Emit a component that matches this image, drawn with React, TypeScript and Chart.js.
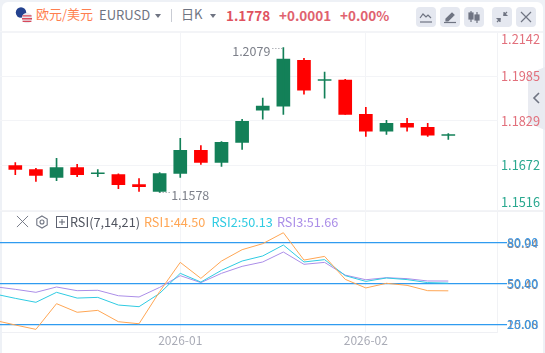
import React, { useEffect, useRef } from "react";
import { Chart, registerables } from "chart.js";

Chart.register(...registerables);

const FONT = '"Noto Sans CJK SC", "Noto Sans", sans-serif';

const candleIndex = [0, 1, 2, 3, 4, 5, 6, 7, 8, 9, 10, 11, 12, 13, 14, 15, 16, 17, 18, 19, 20, 21];
const opens = [1.1672, 1.1658, 1.1630, 1.1665, 1.1643, 1.1640, 1.1605, 1.1581, 1.1644, 1.1725, 1.1683, 1.1753, 1.1866, 1.1880, 1.2041, 1.1970, 1.1971, 1.1851, 1.1792, 1.1820, 1.1806, 1.1777];
const closes = [1.1658, 1.1637, 1.1665, 1.1640, 1.1644, 1.1605, 1.1598, 1.1644, 1.1725, 1.1683, 1.1753, 1.1827, 1.1880, 1.2045, 1.1936, 1.1971, 1.1851, 1.1792, 1.1820, 1.1806, 1.1778, 1.1778];
const highs = [1.1682, 1.1662, 1.1697, 1.1676, 1.1658, 1.1643, 1.1626, 1.1647, 1.1767, 1.1742, 1.1756, 1.1834, 1.1908, 1.2085, 1.2048, 1.1999, 1.1974, 1.1876, 1.1830, 1.1837, 1.1820, 1.1784];
const lows = [1.1640, 1.1616, 1.1619, 1.1633, 1.1633, 1.1591, 1.1581, 1.1578, 1.1630, 1.1676, 1.1669, 1.1728, 1.1834, 1.1851, 1.1922, 1.1908, 1.1851, 1.1774, 1.1781, 1.1792, 1.1774, 1.1763];

const priceTicks = [1.2142, 1.1985, 1.1829, 1.1672, 1.1516];
const priceMax = 1.2142;
const priceMin = 1.1516;

const rsiIndex = [-1, 0, 1, 2, 3, 4, 5, 6, 7, 8, 9, 10, 11, 12, 13, 14, 15, 16, 17, 18, 19, 20, 21];
const rsi1 = [22.9, 19.5, 16.3, 35.1, 28.8, 30.2, 21.9, 20.4, 43.9, 65.3, 53.6, 66.3, 74.6, 79.0, 87.0, 67.0, 69.7, 52.9, 46.6, 50.0, 48.5, 44.6, 44.5];
const rsi2 = [42.2, 39.0, 36.1, 43.4, 39.2, 39.7, 34.1, 32.9, 42.6, 57.3, 50.9, 59.5, 66.3, 70.0, 78.0, 65.6, 67.3, 55.6, 51.4, 53.9, 52.7, 50.5, 50.13];
const rsi3 = [47.5, 45.6, 43.4, 47.3, 44.6, 44.9, 40.9, 40.0, 47.0, 55.6, 50.5, 57.3, 62.4, 65.6, 72.9, 63.9, 65.3, 56.0, 52.6, 54.1, 53.4, 51.7, 51.66];
const rsiTicks = [80, 50, 20];
const rsiGreyTicks = ["80.94", "50.40", "15.08"];
const dateTicks = [8, 17];
const dateLabels = ["2026-01", "2026-02"];

const RED = "#ff0000";
const GREEN = "#138058";
const GRID = "#f3f4f7";

const xMin = -0.742;
const pxPerIdx = 20.62;

const absolute = (l: number, t: number, w: number, h: number, extra: any = {}): React.CSSProperties => ({
  position: "absolute", left: l, top: t, width: w, height: h, ...extra,
});

function Caret({ x, y }: { x: number; y: number }) {
  return (
    <svg style={absolute(x, y, 6, 4)} viewBox="0 0 6 4">
      <path d="M0 0H6L3 4Z" fill="#6f7482" />
    </svg>
  );
}

function Btn({ x, children }: { x: number; children: any }) {
  return (
    <div style={absolute(x, 7, 20, 20, { background: "#e5e8f0", borderRadius: 4 })}>
      <svg width="20" height="20" viewBox="0 0 20 20" fill="none" stroke="#6f7482" strokeWidth="1.2">{children}</svg>
    </div>
  );
}

function Txt({ x, y, size, color, bold, children }: any) {
  return (
    <span style={{
      position: "absolute", left: x, top: y, fontSize: size, color, fontWeight: bold ? 700 : 400,
      lineHeight: "16px", whiteSpace: "nowrap", fontFamily: FONT,
    }}>{children}</span>
  );
}

export default function App() {
  const priceRef = useRef<HTMLCanvasElement>(null);
  const rsiRef = useRef<HTMLCanvasElement>(null);

  useEffect(() => {
    const extremes = {
      id: "extremes",
      afterDatasetsDraw(c: any) {
        const { ctx } = c;
        const xs = c.scales.x;
        const ys = c.scales.y;
        const hiIdx = highs.indexOf(Math.max(...highs));
        const loIdx = lows.indexOf(Math.min(...lows));
        ctx.save();
        ctx.font = `12.5px ${FONT}`;
        ctx.fillStyle = "#7d808a";
        ctx.textBaseline = "middle";
        const hx = xs.getPixelForValue(hiIdx);
        const hy = Math.round(ys.getPixelForValue(highs[hiIdx])) + 0.5;
        const lx = xs.getPixelForValue(loIdx);
        const ly = Math.round(ys.getPixelForValue(lows[loIdx])) + 0.5;
        ctx.textAlign = "right";
        ctx.fillText("1.2079", hx - 13, hy + 2.5);
        ctx.textAlign = "left";
        ctx.fillText("1.1578", lx + 11.5, ly + 2.5);
        ctx.strokeStyle = "#8a8d96";
        ctx.setLineDash([1, 2]);
        ctx.beginPath();
        ctx.moveTo(hx - 11, hy);
        ctx.lineTo(hx, hy);
        ctx.moveTo(lx, ly);
        ctx.lineTo(lx + 10, ly);
        ctx.stroke();
        ctx.restore();
      },
    };

    const price = new Chart(priceRef.current as any, {
      type: "bar",
      data: {
        datasets: [
          {
            label: "wick",
            data: candleIndex.map((i) => ({ x: i, y: [lows[i], highs[i]] })) as any,
            backgroundColor: candleIndex.map((i) => (closes[i] >= opens[i] ? GREEN : RED)),
            barThickness: 1,
            grouped: false,
          } as any,
          {
            label: "body",
            data: candleIndex.map((i) => ({ x: i, y: [opens[i], closes[i]] })) as any,
            backgroundColor: candleIndex.map((i) => (closes[i] >= opens[i] ? GREEN : RED)),
            barThickness: 13,
            minBarLength: 1,
            grouped: false,
          } as any,
        ],
      },
      options: {
        animation: false,
        responsive: false,
        layout: { padding: { top: 31.4, bottom: 143, left: 0, right: 0 } },
        plugins: { legend: { display: false }, tooltip: { enabled: false } },
        scales: {
          x: {
            type: "linear",
            offset: false,
            min: xMin,
            max: xMin + 498 / pxPerIdx,
            afterBuildTicks: (s: any) => { s.ticks = dateTicks.map((value) => ({ value })); },
            afterFit: (s: any) => { s.height = 0; },
            ticks: { display: false },
            grid: { color: GRID, lineWidth: 1, drawTicks: false, offset: false },
            border: { display: false },
          },
          y: {
            position: "right",
            min: priceMin,
            max: priceMax,
            afterBuildTicks: (s: any) => { s.ticks = priceTicks.map((value) => ({ value })); },
            afterFit: (s: any) => { s.width = 47; s.paddingTop = 0; s.paddingBottom = 0; },
            ticks: {
              padding: 3,
              font: { family: FONT, size: 12.8, lineHeight: 1.2 },
              color: (c: any) => (c.index < 3 ? "#e2707c" : "#2aa88f"),
              callback: (v: any, i: number) => {
                const t = Number(v).toFixed(4);
                if (i === 0) return ["", t];
                if (i === priceTicks.length - 1) return [t, ""];
                return t;
              },
            },
            grid: { color: GRID, lineWidth: 1, drawTicks: false },
            border: { display: false },
          },
        },
      },
      plugins: [extremes],
    } as any);

    const rsiDataset = (label: string, values: number[], color: string) => ({
      label,
      data: rsiIndex.map((x, i) => ({ x, y: values[i] })),
      borderColor: color,
      borderWidth: 1,
      pointRadius: 0,
      tension: 0,
    });

    const rsi = new Chart(rsiRef.current as any, {
      type: "line",
      data: {
        datasets: [
          rsiDataset("RSI1", rsi1, "#ffa654"),
          rsiDataset("RSI2", rsi2, "#2fcbe2"),
          rsiDataset("RSI3", rsi3, "#ab8ee8"),
        ],
      },
      options: {
        animation: false,
        responsive: false,
        layout: { padding: { top: 0, bottom: 0, left: 0, right: 0 } },
        plugins: { legend: { display: false }, tooltip: { enabled: false } },
        scales: {
          x: {
            type: "linear",
            min: xMin,
            max: xMin + 507 / pxPerIdx,
            afterBuildTicks: (s: any) => { s.ticks = dateTicks.map((value) => ({ value })); },
            afterFit: (s: any) => { s.height = 21; },
            ticks: {
              color: "#a9abb6",
              padding: 1,
              maxRotation: 0,
              autoSkip: false,
              font: { family: FONT, size: 12 },
              callback: (v: any) => dateLabels[dateTicks.indexOf(Number(v))],
            },
            grid: { color: GRID, lineWidth: 1, drawTicks: false },
            border: { display: false },
          },
          y: {
            position: "right",
            min: 14.37,
            max: 103.63,
            afterBuildTicks: (s: any) => { s.ticks = rsiTicks.map((value) => ({ value })); },
            afterFit: (s: any) => { s.width = 38; s.paddingTop = 0; s.paddingBottom = 0; },
            ticks: {
              padding: 0,
              color: "#3b97e6",
              font: { family: FONT, size: 12.5 },
              callback: (v: any) => Number(v).toFixed(2),
            },
            grid: { color: "#2f9bf0", lineWidth: 1.3, drawTicks: false },
            border: { display: false },
          },
        },
      },
    } as any);

    return () => {
      price.destroy();
      rsi.destroy();
    };
  }, []);

  return (
    <div style={{ position: "fixed", left: 0, top: 0, width: 545, height: 353, background: "#eef1f6", overflow: "hidden", fontFamily: FONT }}>
      <div style={absolute(2, 2, 541, 351, { background: "#fff", borderRadius: "6px 6px 0 0" })} />
      <div style={absolute(2, 31, 541, 2, { background: "#f3f4f7" })} />
      <div style={absolute(2, 210, 541, 2, { background: "#f1f2f5" })} />
      <div style={absolute(2, 332, 496, 1, { background: "#eff0f4" })} />
      <div style={absolute(497, 33, 1, 300, { background: "#f1f2f5" })} />

      <svg style={absolute(528, 67, 17, 63)} viewBox="0 0 17 63">
        <path d="M17 0V63L0 56V7Z" fill="#e9ebf1" />
        <path d="M11 26l-5 5 5 5" stroke="#6f7482" strokeWidth="1.6" fill="none" />
      </svg>

      <svg style={absolute(14, 5, 22, 22)} viewBox="0 0 22 22">
        <circle cx="7" cy="7.5" r="5.2" fill="#24428f" />
        <circle cx="13" cy="13" r="5.2" fill="#e8e8ee" />
        <path d="M8.5 10.2h9v1.4h-9zM8 13h10v1.4H8zM8.6 15.8h8.8v1.2H8.6z" fill="#d8485a" />
      </svg>
      <Txt x={36} y={6} size={13} color="#ff7f50">欧元/美元</Txt>
      <Txt x={99} y={7} size={13} color="#6f7482">EURUSD</Txt>
      <Caret x={155} y={14} />
      <div style={absolute(171, 9, 1, 13, { background: "#c9ccd4" })} />
      <Txt x={181} y={6} size={13} color="#6f7482">日K</Txt>
      <Caret x={210} y={14} />
      <Txt x={226} y={7} size={13.5} color="#e0525f" bold>1.1778</Txt>
      <Txt x={279} y={7} size={13.5} color="#e0626e" bold>+0.0001</Txt>
      <Txt x={340} y={7} size={13.5} color="#e0626e" bold>+0.00%</Txt>

      <Btn x={416}><path d="M4 11l3-4 3 3 2-2 3 3" /><path d="M4 15h12" /></Btn>
      <Btn x={440}><path d="M6 12l6-6 2 2-6 6H6z" fill="#6f7482" /><path d="M4 15.5h12" /></Btn>
      <Btn x={464}><path d="M7 4v11M13 5v11" /><rect x="5" y="6" width="4" height="6" fill="#6f7482" /><rect x="11" y="8" width="4" height="5" fill="#6f7482" /></Btn>
      <Btn x={492}><path d="M15 5l-3.5 3.5M5 15l3.5-3.5" /><path d="M12 5v3.5h3.5M8 15v-3.5H4.5" fill="#6f7482" /></Btn>
      <Btn x={516}><path d="M5 5l10 10M15 5L5 15" /></Btn>

      {rsiGreyTicks.map((t, i) => (
        <Txt key={t} x={507} y={[235, 276, 316][i]} size={12.5} color="#7d808a">{t}</Txt>
      ))}

      <canvas ref={priceRef} width={545} height={353} style={absolute(0, 0, 545, 353)} />
      <canvas ref={rsiRef} width={545} height={143} style={absolute(0, 210, 545, 143)} />

      <svg style={absolute(16, 215, 13, 13)} viewBox="0 0 14 14" fill="none" stroke="#6f7482" strokeWidth="1">
        <path d="M1 1l12 12M13 1L1 13" />
      </svg>
      <svg style={absolute(35, 215, 14, 14)} viewBox="0 0 14 14" fill="none" stroke="#6f7482" strokeWidth="1.1">
        <path d="M7 1l5.2 3v6L7 13l-5.2-3V4z" /><circle cx="7" cy="7" r="2" />
      </svg>
      <svg style={absolute(56, 216, 12, 12)} viewBox="0 0 12 12" fill="none" stroke="#5d6270" strokeWidth="1">
        <rect x="0.5" y="0.5" width="11" height="11" /><path d="M6 3v6M3 6h6" />
      </svg>
      <Txt x={70} y={214} size={12.7} color="#50545f">RSI(7,14,21)</Txt>
      <Txt x={144} y={214} size={12.7} color="#ffa654">RSI1:44.50</Txt>
      <Txt x={211.5} y={214} size={12.7} color="#2fcbe2">RSI2:50.13</Txt>
      <Txt x={277} y={214} size={12.7} color="#ab8ee8">RSI3:51.66</Txt>
    </div>
  );
}
